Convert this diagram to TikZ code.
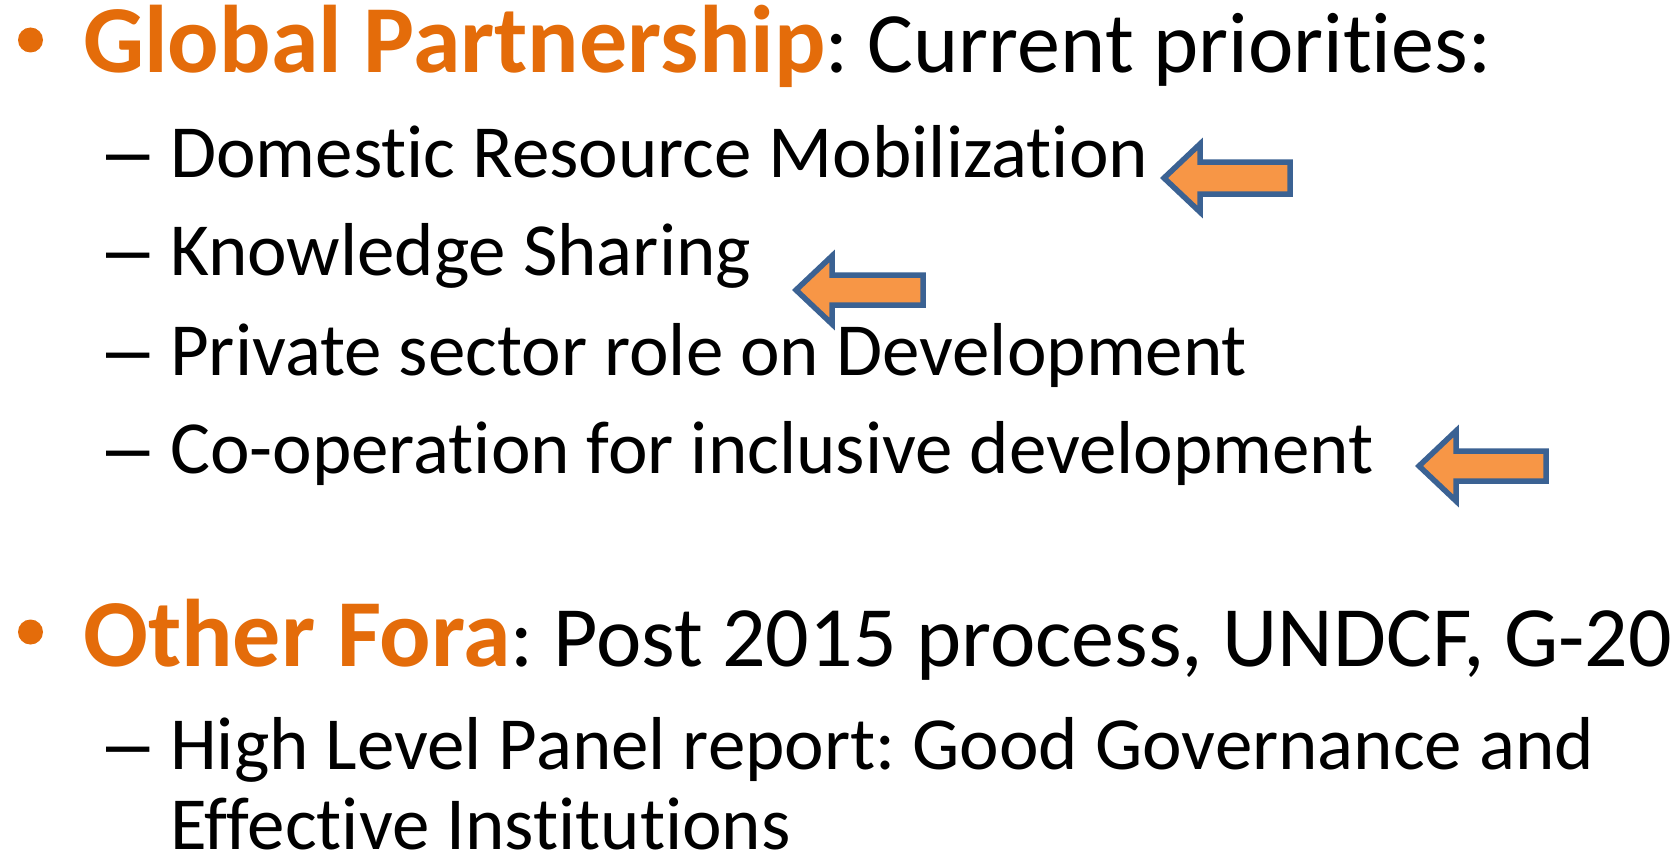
\documentclass[tikz,border=0pt]{standalone}
\usepackage{fontspec}
\setmainfont[Ligatures={NoCommon}]{Carlito}
\newfontfamily\dashfont{Liberation Sans}
\definecolor{hdorange}{HTML}{E46C0A}
\definecolor{arrfill}{HTML}{F79646}
\definecolor{arrline}{HTML}{3B6293}
\newcommand\hdword[1]{{\fontsize{96}{96}\selectfont\bfseries\color{hdorange}#1}}
\tikzset{
  mainline/.style={anchor=base west,inner sep=0pt,font=\frenchspacing\fontsize{86}{86}\selectfont},
  subline/.style={anchor=base west,inner sep=0pt,font=\frenchspacing\fontsize{75}{75}\selectfont},
  dashmark/.style={anchor=base west,inner sep=0pt,font=\dashfont\fontsize{78}{78}\selectfont},
  bulletdot/.style={circle,fill=hdorange,inner sep=0pt,minimum size=25pt},
  prioarrow/.style={fill=arrfill,draw=arrline,line width=5.5pt,line join=miter}
}
\newcommand\myarrow[6]{% tipx tipy headx rightx headhalf shafthalf
  \draw[prioarrow] (#1,#2) -- (#3,#2-#5) -- (#3,#2-#6) -- (#4,#2-#6)
    -- (#4,#2+#6) -- (#3,#2+#6) -- (#3,#2+#5) -- cycle;}
\begin{document}
\begin{tikzpicture}[x=1pt,y=-1pt]
\useasboundingbox[fill=white] (0,0) rectangle (1675,851);
% first bullet
\node[bulletdot] (b1) at (30.5,40) {};
\node[mainline] (t1) at (83,73) {\hdword{Global Partnership}: Current priorities:};
\node[dashmark] (d1) at (106,177) {–};
\node[subline] (s1) at (170,177) {Domestic Resource Mobilization};
\node[dashmark] (d2) at (106,275) {–};
\node[subline] (s2) at (170,275) {Knowledge Sharing};
\node[dashmark] (d3) at (106,375) {–};
\node[subline] (s3) at (170,375) {Private sector role on Development};
\node[dashmark] (d4) at (106,473) {–};
\node[subline] (s4) at (170,473) {Co-operation for inclusive development};
% second bullet
\node[bulletdot] (b2) at (30.5,632) {};
\node[mainline] (t2) at (83,666) {\hdword{Other Fora}: Post 2015 process, UNDCF, G-20};
\node[dashmark] (d5) at (106,769) {–};
\node[subline] (s5) at (170,769) {High Level Panel report: Good Governance and};
\node[subline] (s6) at (170,849) {Effective Institutions};
% arrows
\myarrow{1164}{178}{1200}{1290}{34}{16}
\myarrow{796}{290}{832}{923}{34}{15}
\myarrow{1419}{466}{1456}{1546}{35}{15}
\end{tikzpicture}
\end{document}
